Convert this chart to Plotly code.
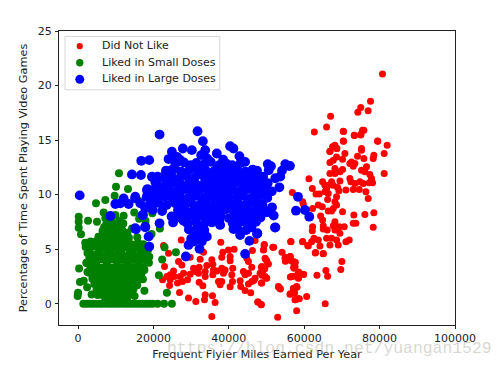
import plotly.graph_objects as go

series_names = ["Did Not Like", "Liked in Small Doses", "Liked in Large Doses"]
x_label = "Frequent Flyier Miles Earned Per Year"
y_label = "Percentage of Time Spent Playing Video Games"
x_ticks = [0, 20000, 40000, 60000, 80000, 100000]
y_ticks = [0, 5, 10, 15, 20, 25]

did_not_like = [
(27360,5.85),(22680,5.33),(24000,4.63),(29740,4.27),(26650,3.87),(27530,3.56),(22940,3.41),(32390,4.08),(37870,5.64),(33270,4.72),
(31070,5.85),(39900,4.93),(41400,5.0),(38400,4.72),(38130,4.26),(40340,4.33),(40340,3.93),(35480,4.02),(35750,3.62),(34160,3.5),
(32130,3.35),(30630,3.26),(31070,2.95),(29740,2.71),(31950,2.8),(33720,2.95),(33720,2.5),(35920,3.1),(35750,2.65),(36810,3.0),
(38130,3.26),(39010,3.1),(38570,2.8),(41040,3.26),(40780,2.65),(27980,2.8),(27090,2.5),(25330,3.0),(24440,2.65),(23560,2.5),
(22410,2.2),(25500,2.5),(24440,2.2),(24270,1.67),(26390,1.9),(27710,2.04),(29040,2.2),(32130,1.98),(33100,1.64),(26920,1.03),
(29300,0.52),(31240,0.21),(33720,0.82),(33540,0.36),(35660,0.73),(36360,0.12),(35480,-1.16),(37250,2.04),(38130,2.04),(37690,1.74),
(40340,1.55),(40960,2.04),(42990,2.1),(43160,1.58),(44310,1.22),(45810,1.0),(43870,2.95),(44310,2.65),(45200,2.8),(46080,3.35),
(44750,4.17),(45200,3.87),(46250,4.87),(49340,5.39),(49170,4.93),(51640,5.18),(46960,5.79),(49610,4.17),(50050,3.93),(50500,3.65),
(48730,3.41),(49170,3.1),(48290,2.8),(49610,2.5),(50050,2.34),(48730,1.89),(46960,2.34),(46080,2.04),(45200,1.8),(53580,1.43),
(53140,1.58),(47670,0.15),(48550,-0.09),(54110,4.72),(56410,5.7),(59590,5.7),(60910,5.33),(54910,4.17),(56230,4.33),(55170,3.93),
(57120,3.87),(57560,3.41),(57290,3.26),(58440,2.8),(59760,2.71),(58440,2.34),(56670,2.5),(57990,1.58),(57120,1.43),(57290,1.13),
(56230,0.88),(58440,0.46),(57560,0.36),(60650,0.67),(57990,-0.64),(52960,-1.25),
(62670,15.75),(70350,15.8),(73260,15.44),(75030,15.53),(75820,15.9),(70350,14.92),(79440,14.92),(82000,14.53),(68140,14.53),(67520,14.38),
(68580,14.22),(66820,13.98),(75200,14.22),(75200,14.07),(70790,13.77),(74140,13.52),(68580,13.46),(67700,13.16),(66820,12.94),(70170,13.25),
(75820,13.31),(78470,13.61),(78300,13.31),(81210,13.77),(72560,13.0),(73440,12.85),(72110,12.85),(73000,12.61),(76530,12.55),(75200,12.24),
(76090,12.09),(68140,12.4),(70170,12.3),(69470,12.09),(68140,11.94),(66820,11.94),(81210,11.94),(77410,11.85),(77850,11.48),(77230,11.09),
(78120,11.09),(74760,11.18),(75650,11.02),(73440,11.02),(72110,11.48),(72380,11.18),(61250,11.45),(69470,11.24),(64870,11.18),(67260,11.18),
(65490,10.87),(66380,10.87),(67700,10.87),(62140,10.57),(65930,10.57),(68850,10.66),(69200,10.35),(71050,10.42),(73000,10.48),(74590,10.48),
(76350,10.26),(76970,9.65),(56840,10.2),(63110,10.05),(63990,10.05),(65490,10.26),(66380,10.11),(66200,9.56),(68580,9.81),(68140,9.35),
(68580,9.04),(67700,8.74),(66380,8.5),(67260,8.5),(70170,8.43),(73170,8.13),(76090,8.19),(78470,8.34),(62220,8.74),(63730,9.04),
(64790,8.89),(59750,9.14),(59580,9.35),(64340,8.04),(64870,7.67),(68140,7.52),(73000,7.37),(73700,7.37),(70610,7.06),(78300,7.0),
(69290,7.06),(67700,7.15),(62220,7.06),(62140,6.7),(65050,7.15),(65050,6.85),(66110,6.76),(68140,6.76),(69470,6.45),(56480,5.69),
(59580,5.69),(61080,5.3),(61960,5.69),(62580,6.0),(63730,5.85),(64170,5.3),(65930,6.0),(67260,6.0),(68580,5.85),(66820,5.39),
(69020,5.39),(71050,5.69),(71940,5.85),(63020,4.69),(65050,4.57),
(80760,21.05),(77580,18.55),(75000,17.98),(76950,17.7),(74220,17.55),(67000,17.18),(65930,16.2),(70440,15.78),(75470,15.9),(73350,15.42),
(75000,15.47),(70440,14.9),(79520,14.9),(67870,14.44),(68670,14.23),(66800,13.96),
(65560,0.0),(65750,3.05),(66200,2.53),(63370,2.62),(69990,3.87),(69700,3.14),(62930,4.66),(65050,4.6),(58520,2.9),(59850,2.68),
(58520,2.38),(57200,2.53),(56310,2.44),(58080,1.52),(57200,1.28),(56310,0.91),(57460,0.98),(57640,0.37),(58700,0.46),(53220,1.52),
(53670,1.34),(47750,0.15),(48630,-0.06),(57640,3.8),(56750,3.9),(54990,4.27),(56310,4.33),(54990,3.9),(57200,3.35),(51900,5.18),
(49430,5.42),(49250,4.97),(49690,4.1),(50310,3.66),(49520,3.2),(48810,2.6),(49960,2.35),(48630,1.89),(46600,2.13),(48630,3.35),
]

liked_small = [
(10060,10.72),(13240,10.51),(9700,9.9),(4760,9.2),(7230,9.5),(14910,8.37),(6790,8.37),(9880,8.13),(12090,8.07),(170,7.98),
(170,7.52),(170,6.97),(785,6.36),(2640,7.61),(5020,7.52),(7230,7.83),(10850,11.97),(22930,5.18),(25950,4.73),(22320,4.05),
(21440,2.62),(23570,1.0),(270,3.23),(500,2.0),(0,1.0),(-100,0.7),(2400,1.5),(3600,0.85),(2300,3.7),(17600,1.2),
(17200,2.25),(17600,3.1),(19500,6.4),(18900,4.3),(19700,8.3),(16400,9.4),(17900,7.6),(21700,6.9),(16200,7.8),(14300,6.9),
(2500,2.9),(1900,5.6),(2700,5.5),(3300,5.7),(1500,2.1),
(7400,7.25),(8300,7.0),(9700,7.3),(10900,7.1),(12000,7.35),
(6500,6.7),(7900,6.55),(9000,6.8),(10100,6.6),(11700,6.75),(13100,6.5),
(5400,6.15),(6700,6.3),(8100,6.05),(9400,6.2),(10800,6.0),(12200,6.25),(13500,6.05),(15700,6.1),
(4600,5.7),(5900,5.55),(7200,5.75),(8600,5.5),(9900,5.65),(11100,5.5),(12500,5.7),(14100,5.45),(15900,5.6),(17300,5.45),
(2000,5.2),(3100,5.05),(4400,5.25),(5800,4.95),(7400,5.1),(8800,5.0),(10100,5.2),(11500,4.95),(12700,5.15),(14400,4.95),(15800,5.1),(17000,4.9),(18600,4.95),
(2500,4.65),(3800,4.5),(5200,4.6),(6500,4.45),(8000,4.65),(9300,4.45),(10700,4.6),(12100,4.4),(13600,4.55),(15000,4.4),(16500,4.6),(18100,4.45),
(2200,3.75),(3600,4.0),(5000,3.95),(6400,4.05),(7700,3.85),(9200,4.05),(10500,3.9),(11900,4.0),(13300,3.85),(14700,4.0),(16100,3.85),(17500,4.0),(18800,3.75),
(3300,3.35),(4700,3.5),(6100,3.3),(7500,3.45),(8900,3.3),(10300,3.5),(11700,3.3),(13100,3.45),(14500,3.3),(15900,3.45),(17400,3.3),
(2900,2.85),(4200,2.95),(5700,2.8),(7100,2.95),(8600,2.75),(10000,2.9),(11400,2.75),(12800,2.95),(14200,2.8),(15600,2.9),(16800,2.75),
(3800,2.3),(5200,2.4),(6600,2.25),(8100,2.4),(9500,2.2),(10900,2.35),(12300,2.2),(13700,2.4),(15100,2.2),(16400,2.3),
(4300,1.8),(5700,1.9),(7200,1.75),(8600,1.9),(10100,1.7),(11500,1.85),(12900,1.7),(14300,1.85),(15700,1.7),
(4900,1.3),(6300,1.4),(7700,1.25),(9100,1.4),(10500,1.2),(11900,1.35),(13300,1.2),(14700,1.35),
(5200,0.8),(6800,0.7),(8200,0.85),(9600,0.7),(11000,0.85),(12400,0.7),(13800,0.85),(15000,0.7),
(7300,0.35),(8800,0.3),(10200,0.4),(11600,0.3),(13000,0.35),
(1400,0),(2200,0),(3100,0),(3900,0),(4800,0),(5700,0),(6500,0),(7400,0),(8300,0),(9100,0),
(10000,0),(10900,0),(11800,0),(12700,0),(13500,0),(14400,0),(15300,0),(16200,0),(17100,0),(18000,0),
(18900,0),(19800,0),(21100,0),(22800,0),(24880,0),
(3000,4.2),(4400,4.25),(5700,4.3),(7000,4.2),(8500,4.3),(9900,4.2),(11300,4.25),(12700,4.2),(14100,4.25),(15500,4.2),(16900,4.25),
(4000,3.15),(5400,3.1),(6800,3.2),(8200,3.1),(9600,3.15),(11000,3.1),(12400,3.2),(13800,3.1),(15200,3.15),(16600,3.1),
(4600,2.6),(6000,2.55),(7500,2.6),(8900,2.55),(10400,2.6),(11800,2.5),(13200,2.6),(14600,2.55),(16000,2.55),
(5000,2.1),(6300,2.05),(7800,2.1),(9200,2.05),(10600,2.1),(12000,2.0),(13400,2.1),(14800,2.0),
(5600,1.55),(6900,1.6),(8300,1.55),(9800,1.5),(11200,1.55),(12600,1.5),(14000,1.6),
(6000,1.05),(7300,1.0),(8800,1.1),(10200,1.0),(11600,1.05),(13000,1.0),(14300,1.1),
(4500,5.45),(6400,5.3),(8100,5.3),(9500,5.3),(10900,5.3),(12100,5.35),(13500,5.3),(15200,5.35),
(7400,6.25),(8800,6.4),(10200,6.3),(11500,6.4),(8500,7.4),(9000,7.9),(6900,7.0),(11000,7.6),
]

liked_large = [
(21620,15.51),(31690,15.81),(33100,14.9),(27800,14.23),(24890,13.93),(30190,14.08),(40340,14.44),(41220,14.23),(26210,13.47),(24000,13.26),
(16760,13.1),(18880,13.16),(36810,13.77),(33720,14.08),(32660,13.62),(14290,11.85),(16680,11.8),(24710,12.25),(44310,13.0),(42810,13.53),
(19590,11.64),(21090,11.64),(20470,11.18),(23560,11.24),(18440,10.51),(21970,10.57),(15170,9.66),(23120,9.96),(19150,9.96),(20470,9.5),
(17820,8.75),(17120,8.13),(21620,7.37),(17820,7.07),(15170,6.92),(430,9.93),(8555,8.04),(15350,6.82),(17830,7.0),(18710,6.15),
(18890,5.24),(12090,9.65),(9880,9.14),(11200,9.2),(13410,9.14),(15180,9.81),(17210,8.13),(18270,10.42),
(28590,4.33),(44310,4.57),(37690,7.22),(29300,5.39),(32210,5.03),(30630,5.7),(34160,6.15),(32830,5.7),(45460,5.76),(42990,6.3),
(47580,6.46),(52260,6.98),(41220,6.85),(58340,9.8),(57810,8.53),(60190,8.59),(61340,7.98),(56220,12.64),(50310,12.8),(51180,12.6),
(50580,12.23),(54970,12.8),(55870,12.65),(54100,12.2),(53650,11.66),(52320,11.5),(47480,12.2),(46950,11.8),(53400,10.67),(50130,10.06),
(49690,10.5),(51460,8.84),(51900,8.08),(52340,7.0),(47480,6.4),(48370,8.84),(50130,8.38),(46160,7.47),
(25800,12.8),(28100,12.95),(29900,12.7),(31400,12.9),(33300,12.75),(35200,13.0),(37400,12.7),(39300,12.85),(40900,12.7),(43100,12.9),
(23300,12.2),(25600,12.35),(27400,12.1),(29600,12.3),(31800,12.15),(33700,12.3),(35900,12.1),(38000,12.35),(40100,12.15),(42200,12.3),(44400,12.1),(46300,12.3),
(22400,11.6),(24800,11.7),(26900,11.5),(28700,11.7),(30900,11.55),(33100,11.75),(35000,11.5),(37200,11.7),(39100,11.55),(41300,11.7),(43400,11.5),(45300,11.7),(47400,11.5),(49100,11.65),
(20900,11.0),(23100,10.85),(25400,11.1),(27300,10.9),(29400,11.05),(31500,10.9),(33600,11.1),(35700,10.9),(37800,11.05),(39900,10.85),(41800,11.1),(44000,10.9),(46100,11.05),(48200,10.9),(50300,11.05),
(19700,10.4),(21800,10.3),(24200,10.45),(26100,10.3),(28300,10.5),(30400,10.3),(32300,10.45),(34600,10.25),(36500,10.5),(38700,10.3),(40800,10.45),(42700,10.3),(44900,10.5),(47000,10.3),(49100,10.45),(51400,10.3),
(18200,9.8),(20600,9.7),(22900,9.85),(25000,9.7),(27000,9.85),(29200,9.7),(31300,9.9),(33400,9.7),(35500,9.85),(37600,9.7),(39600,9.85),(41800,9.7),(43800,9.9),(46000,9.7),(48000,9.85),(50200,9.7),
(16500,9.2),(19000,9.1),(21300,9.25),(23500,9.05),(25800,9.2),(27900,9.1),(30000,9.25),(32200,9.05),(34100,9.2),(36200,9.1),(38400,9.25),(40500,9.05),(42500,9.2),(44600,9.1),(46800,9.25),(48900,9.1),
(19800,8.6),(22300,8.5),(26500,8.6),(28600,8.5),(30800,8.65),(32900,8.5),(35000,8.6),(37000,8.45),(39100,8.65),(41300,8.5),(43500,8.6),(45500,8.5),(47500,8.65),(49700,8.5),
(24800,8.0),(27000,7.9),(29300,8.05),(31500,7.9),(33600,8.0),(35700,7.9),(37800,8.05),(40000,7.85),(42000,8.0),(44100,7.9),(46300,8.05),(48400,7.9),
(25200,7.45),(29000,7.35),(31200,7.5),(33400,7.3),(35500,7.45),(37500,7.6),(41000,7.4),(43200,7.5),(45300,7.35),(47200,7.5),
(29400,6.8),(31600,6.9),(33500,6.75),(42300,6.85),(44600,6.75),(30800,6.2),(32900,6.25),
(27000,13.2),(34300,13.3),(38500,13.2),(32500,12.4),(36800,12.4),(41200,12.5),(28300,11.9),(34000,11.9),(38200,11.9),(42400,12.0),
(30200,11.25),(36700,11.3),(40800,11.3),(45100,11.35),(27300,10.65),(33300,10.7),(37600,10.7),(43800,10.7),(24200,10.05),(30400,10.0),
(36500,10.1),(42800,10.1),(47000,10.0),(26800,9.5),(33100,9.45),(39400,9.5),(45700,9.5),(31900,8.85),(38000,8.85),(44500,8.85),
(30400,8.25),(36700,8.3),(43100,8.25),(47400,8.3),(34500,7.65),(44200,7.7),(28000,7.6),(32300,7.0),(30000,5.95),(46000,7.0),
]

series_data = [did_not_like, liked_small, liked_large]
series_colors = ["#ff0000", "#008000", "#0000ff"]
series_sizes = [7, 8, 9.8]

fig = go.Figure()
for name, pts, color, size in zip(series_names, series_data, series_colors, series_sizes):
    fig.add_trace(go.Scatter(
        x=[p[0] for p in pts], y=[p[1] for p in pts], mode="markers", name=name,
        marker=dict(color=color, size=size, line=dict(width=0)), showlegend=False,
    ))

OFFSET = 8  # page body margin
W, H = 504 - OFFSET, 367 - OFFSET
L, R, T, B = 58.5 - OFFSET, 455 - OFFSET, 30.5 - OFFSET, 325.5 - OFFSET
text_color = "#222222"
axis_style = dict(
    automargin=False, showgrid=False, zeroline=False, showline=True, mirror=True, linecolor="#222222", linewidth=1,
    ticks="outside", ticklen=3, tickwidth=1, tickcolor="#222222",
    tickfont=dict(family="DejaVu Sans", size=11, color=text_color),
)

def px(v):
    return (v - OFFSET - L) / (R - L)

def py(v):
    return (B - (v - OFFSET)) / (B - T)

legend_rows = [45.7, 62.3, 79.0]
legend_diam = [6.2, 7.4, 9.0]
shapes = [dict(type="rect", xref="paper", yref="paper", x0=px(64.5), x1=px(219.5), y0=py(36), y1=py(89.5),
               fillcolor="white", line=dict(color="#d8d8d8", width=1), layer="above")]
annotations = []
for name, row, diam, color in zip(series_names, legend_rows, legend_diam, series_colors):
    shapes.append(dict(type="circle", xref="paper", yref="paper", x0=px(79.3 - diam / 2), x1=px(79.3 + diam / 2),
                       y0=py(row + diam / 2), y1=py(row - diam / 2), fillcolor=color, line=dict(width=0), layer="above"))
    annotations.append(dict(text=name, xref="paper", yref="paper", x=px(99.3), y=py(row - 0.5), xanchor="left", yanchor="middle",
                            showarrow=False, font=dict(family="DejaVu Sans", size=11, color=text_color)))
annotations.append(dict(text="https://blog.csdn.net/yuangan1529", xref="paper", yref="paper",
                        x=px(165), y=py(349), xanchor="left", yanchor="middle", showarrow=False,
                        font=dict(family="Liberation Mono", size=16.4, color="rgba(175,175,165,0.5)")))

fig.update_layout(
    width=W, height=H, autosize=False, paper_bgcolor="white", plot_bgcolor="white",
    margin=dict(l=L, r=W - R, t=T, b=H - B, pad=0),
    xaxis=dict(range=[-5060, 100000], tickvals=x_ticks, ticktext=[str(v) for v in x_ticks], ticklabelstandoff=0,
               title=dict(text=x_label, standoff=5, font=dict(family="DejaVu Sans", size=11.3, color=text_color)), **axis_style),
    yaxis=dict(range=[-1.95, 25], tickvals=y_ticks, ticklabelstandoff=1,
               title=dict(text=y_label, standoff=7, font=dict(family="DejaVu Sans", size=11.3, color=text_color)), **axis_style),
    shapes=shapes, annotations=annotations, showlegend=False,
)
fig.write_html("out.html")
